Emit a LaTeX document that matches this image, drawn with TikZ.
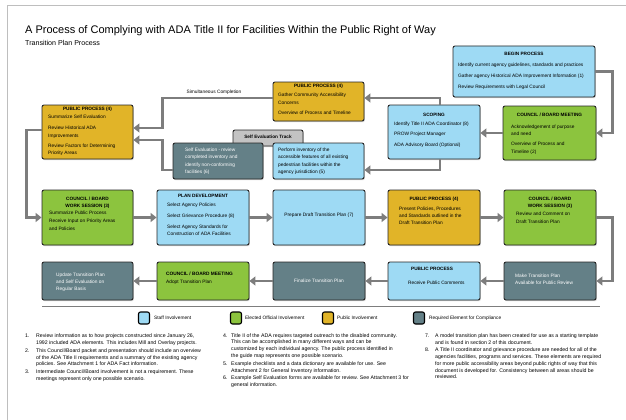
\documentclass[tikz,border=0pt]{standalone}
\usepackage{fontspec}
\setmainfont{Liberation Sans}
\usetikzlibrary{arrows.meta,shadows,calc}
\definecolor{staff}{RGB}{158,218,244}
\definecolor{elected}{RGB}{140,196,62}
\definecolor{public}{RGB}{225,180,40}
\definecolor{required}{RGB}{100,128,135}
\definecolor{arrowgray}{RGB}{125,125,125}
\definecolor{bordergray}{RGB}{190,190,190}
\definecolor{tabgray}{RGB}{195,195,195}
\begin{document}
\begin{tikzpicture}[x=1pt,y=-1pt,
  box/.style={draw=black!85, line width=0.9pt, rounded corners=2pt, inner sep=0pt,
    drop shadow={shadow xshift=0.8pt, shadow yshift=-1.2pt, fill=black!35}},
  bluebox/.style={box, fill=staff},
  greenbox/.style={box, fill=elected},
  goldbox/.style={box, fill=public},
  tealbox/.style={box, fill=required},
  txt/.style={font=\fontsize{4.8}{7.5}\selectfont, inner sep=0pt, align=left, anchor=west},
  wtxt/.style={txt, text=white},
  hd/.style={font=\bfseries\fontsize{4.7}{7}\selectfont, inner sep=0pt, align=center},
  ctxt/.style={font=\fontsize{4.8}{7}\selectfont, inner sep=0pt, align=center},
  arr/.style={draw=arrowgray, line width=2.6pt, line join=miter, -{Triangle[length=6pt,width=9pt]}},
  swatch/.style={draw=black, line width=1.1pt, rounded corners=2pt, minimum width=11pt, minimum height=12pt, inner sep=0pt},
  leg/.style={font=\fontsize{4.8}{6}\selectfont, inner sep=0pt, anchor=west},
  note/.style={font=\fontsize{5.2}{6.75}\selectfont, inner sep=0pt, align=left, anchor=west},
  num/.style={font=\fontsize{5.2}{6.75}\selectfont, inner sep=0pt, anchor=west}
]
\useasboundingbox (0,0) rectangle (626,420);
\fill[white] (0,0) rectangle (626,420);
\draw[bordergray, line width=0.8pt] (7,420) -- (7,5) -- (626,5);

% title
\node[anchor=west, font=\fontsize{11}{12}\selectfont, inner sep=0pt] (title) at (25,30.5)
  {A Process of Complying with ADA Title II for Facilities Within the Public Right of Way};
\node[anchor=west, font=\fontsize{7.1}{8}\selectfont, inner sep=0pt] (subtitle) at (25,42.5)
  {Transition Plan Process};

% self evaluation track tab (behind)
\node[box, fill=tabgray, minimum width=70pt, minimum height=16pt] (tab) at (268,138) {};
\node[hd] (tabt) at (268,136.5) {Self Evaluation Track};

% row 1 boxes
\node[bluebox, minimum width=142pt, minimum height=51pt] (begin) at (524,71.5) {};
\node[greenbox, minimum width=93pt, minimum height=54pt] (cbm1) at (549.5,133) {};
\node[bluebox, minimum width=92pt, minimum height=54pt] (scoping) at (434,132) {};
\node[goldbox, minimum width=91pt, minimum height=39pt] (pp4) at (318.5,101.5) {};
\node[goldbox, minimum width=91pt, minimum height=54pt] (pp6) at (87.5,132) {};
\node[tealbox, minimum width=90pt, minimum height=36pt] (selfeval) at (218,161) {};
\node[bluebox, minimum width=91pt, minimum height=36pt] (perform) at (318.5,161) {};

% row 2 boxes
\node[greenbox, minimum width=91pt, minimum height=55pt] (ws1) at (87.5,217.5) {};
\node[bluebox, minimum width=92pt, minimum height=55pt] (plan) at (203,217.5) {};
\node[bluebox, minimum width=92pt, minimum height=55pt] (draft) at (319,217.5) {};
\node[goldbox, minimum width=92pt, minimum height=55pt] (pp8) at (434,217.5) {};
\node[greenbox, minimum width=92pt, minimum height=55pt] (ws2) at (550,217.5) {};

% row 3 boxes
\node[tealbox, minimum width=91pt, minimum height=38pt] (update) at (87.5,281) {};
\node[greenbox, minimum width=92pt, minimum height=38pt] (adopt) at (203,281) {};
\node[tealbox, minimum width=92pt, minimum height=38pt] (finalize) at (319,281) {};
\node[bluebox, minimum width=92pt, minimum height=38pt] (ppr) at (434,281) {};
\node[tealbox, minimum width=92pt, minimum height=38pt] (make) at (550,281) {};

% texts row 1
\node[hd] (beginh) at (524,54) {BEGIN PROCESS};
\node[txt] (begin1) at (458,65) {Identify current agency guidelines, standards and practices};
\node[txt] (begin2) at (458,76) {Gather agency Historical ADA Improvement Information (1)};
\node[txt] (begin3) at (458,87) {Review Requirements with Legal Council};

\node[hd] (cbm1h) at (549.5,115) {COUNCIL / BOARD MEETING};
\node[txt] (cbm1a) at (511,130.5) {Acknowledgement of purpose\\and need};
\node[txt] (cbm1b) at (511,148.5) {Overview of Process and\\Timeline (2)};

\node[hd] (scopingh) at (434,115) {SCOPING};
\node[txt] (scop1) at (394,124) {Identify Title II ADA Coordinator (8)};
\node[txt] (scop2) at (394,134) {PROW Project Manager};
\node[txt] (scop3) at (394,145) {ADA Advisory Board (Optional)};

\node[hd] (pp4h) at (318.5,86.5) {PUBLIC PROCESS (4)};
\node[txt] (pp4a) at (278,99) {Gather Community Accessibility\\Concerns};
\node[txt] (pp4b) at (278,113) {Overview of Process and Timeline};

\node[hd] (pp6h) at (87.5,109) {PUBLIC PROCESS (4)};
\node[txt] (pp6a) at (48,117) {Summarize Self Evaluation};
\node[txt] (pp6b) at (48,132.5) {Review Historical ADA\\Improvements};
\node[txt] (pp6c) at (48,150) {Review Factors for Determining\\Priority Areas};

\node[wtxt] (selfevalt) at (185,161.25) {Self Evaluation - review\\completed inventory and\\identify non-conforming\\facilities (6)};
\node[txt] (performt) at (278,161.25) {Perform inventory of the\\accessible features of all existing\\pedestrian facilities within the\\agency jurisdiction (5)};

% texts row 2
\node[hd] (ws1h) at (87.5,202.5) {COUNCIL / BOARD\\WORK SESSION (3)};
\node[txt, font=\fontsize{4.8}{8}\selectfont] (ws1t) at (49,221) {Summarize Public Process\\Receive Input on Priority Areas\\and Policies};

\node[hd] (planh) at (203,196) {PLAN DEVELOPMENT};
\node[txt] (plan1) at (167,205) {Select Agency Policies};
\node[txt] (plan2) at (167,216) {Select Grievance Procedure (8)};
\node[txt] (plan3) at (167,230.5) {Select Agency Standards for\\Construction of ADA Facilities};

\node[ctxt] (draftt) at (319,215) {Prepare Draft Transition Plan (7)};

\node[hd] (pp8h) at (434,199) {PUBLIC PROCESS (4)};
\node[txt, font=\fontsize{4.8}{7}\selectfont] (pp8t) at (399,216) {Present Policies, Procedures\\and Standards outlined in the\\Draft Transition Plan};

\node[hd] (ws2h) at (550,202.5) {COUNCIL / BOARD\\WORK SESSION (3)};
\node[txt, font=\fontsize{4.8}{8}\selectfont] (ws2t) at (516,218) {Review and Comment on\\Draft Transition Plan};

% texts row 3
\node[wtxt, font=\fontsize{4.8}{6.8}\selectfont] (updatet) at (56,282.5) {Update Transition Plan\\and Self Evaluation on\\Regular Basis};
\node[txt, font=\fontsize{4.8}{8}\selectfont] (adoptt) at (166,278) {\textbf{COUNCIL / BOARD MEETING}\\Adopt Transition Plan};
\node[ctxt, text=white] (finalizet) at (319,281) {Finalize Transition Plan};
\node[hd, anchor=west] (pprh) at (411,269) {PUBLIC PROCESS};
\node[txt] (pprt) at (408,283) {Receive Public Comments};
\node[wtxt, font=\fontsize{4.8}{7}\selectfont] (maket) at (515,279.5) {Make Transition Plan\\Available for Public Review};

% connectors
\draw[arr] (begin.east) -- ++(17,0) |- (cbm1.east);
\draw[arr] (cbm1.west) -- (cbm1.west -| scoping.east);
\draw[arr] ([xshift=6pt]scoping.north) |- ([yshift=3.5pt]pp4.east);
\draw[arr] ([xshift=6pt]scoping.south) |- ([yshift=-9pt]perform.east);
\draw[arr] ([yshift=3.5pt]pp4.west) -- ++(-110,0) |- ([yshift=4pt]pp6.east);
\node[font=\fontsize{4.8}{6}\selectfont, inner sep=0pt] (simul) at (214,92) {Simultaneous Completion};
\draw[arr] ([yshift=-9pt]selfeval.west) -- ++(-10,0) |- ([yshift=-8pt]pp6.east);
\draw[arr] ([yshift=2pt]pp6.west) -- ++(-15,0) |- (ws1.west);
\draw[arr] (ws1.east) -- (plan.west);
\draw[arr] (plan.east) -- (draft.west);
\draw[arr] (draft.east) -- (pp8.west);
\draw[arr] (pp8.east) -- (ws2.west);
\draw[arr] (ws2.east) -- ++(16,0) |- (make.east);
\draw[arr] (make.west) -- (ppr.east);
\draw[arr] (ppr.west) -- (finalize.east);
\draw[arr] (finalize.west) -- (adopt.east);
\draw[arr] (adopt.west) -- (update.east);

% legend
\draw[arrowgray, line width=0.9pt] (42,306) -- (600,306);
\node[swatch, fill=staff] (sw1) at (144,318) {};
\node[leg] (lg1) at (154,318) {Staff Involvement};
\node[swatch, fill=elected] (sw2) at (236,318) {};
\node[leg] (lg2) at (245,318) {Elected Official Involvement};
\node[swatch, fill=public] (sw3) at (328,318) {};
\node[leg] (lg3) at (337,318) {Public Involvement};
\node[swatch, fill=required] (sw4) at (419,318) {};
\node[leg] (lg4) at (429,318) {Required Element for Compliance};

% notes
\node[num] (n1) at (25,336) {1.};
\node[note] (n1t) at (36,339.5) {Review information as to how projects constructed since January 26,\\1992 included ADA elements. This includes Mill and Overlay projects.};
\node[num] (n2) at (25,351) {2.};
\node[note] (n2t) at (36,357.75) {This Council/Board packet and presentation should include an overview\\of the ADA Title II requirements and a summary of the existing agency\\policies. See Attachment 1 for ADA Fact information.};
\node[num] (n3) at (25,372) {3.};
\node[note] (n3t) at (36,375.5) {Intermediate Council/Board involvement is not a requirement. These\\meetings represent only one possible scenario.};

\node[num] (n4) at (223,336) {4.};
\node[note] (n4t) at (231,346) {Title II of the ADA requires targeted outreach to the disabled community.\\This can be accomplished in many different ways and can be\\customized by each individual agency. The public process identified in\\the guide map represents one possible scenario.};
\node[num] (n5) at (223,364) {5.};
\node[note] (n5t) at (231,367.5) {Example checklists and a data dictionary are available for use. See\\Attachment 2 for General Inventory information.};
\node[num] (n6) at (223,378) {6.};
\node[note] (n6t) at (231,381.4) {Example Self Evaluation forms are available for review. See Attachment 3 for\\general information.};

\node[num] (n7) at (425,336) {7.};
\node[note] (n7t) at (435,339.5) {A model transition plan has been created for use as a starting template\\and is found in section 2 of this document.};
\node[num] (n8) at (425,350) {8.};
\node[note] (n8t) at (435,363.5) {A Title II coordinator and grievance procedure are needed for all of the\\agencies facilities, programs and services. These elements are required\\for more public accessibility areas beyond public rights of way that this\\document is developed for. Consistency between all areas should be\\reviewed.};
\end{tikzpicture}
\end{document}
